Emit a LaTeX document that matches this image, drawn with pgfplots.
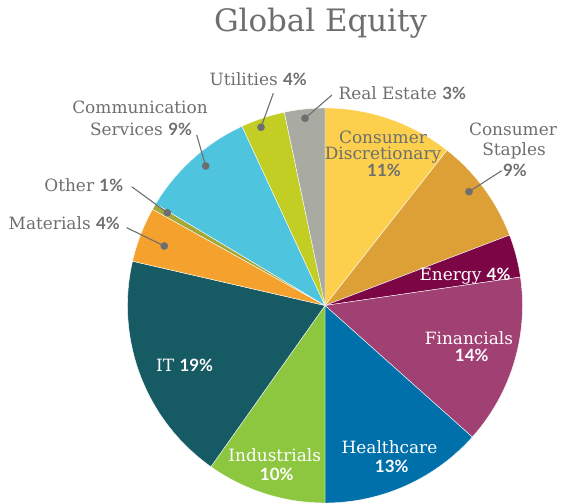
\documentclass[border=0pt]{standalone}
\usepackage{pgfplots}
\pgfplotsset{compat=1.18}
\usepackage{fontspec}
\setmainfont{DejaVu Serif}
\newfontfamily\pctf{Lato}
\definecolor{cCD}{HTML}{FCD04D}
\definecolor{cCS}{HTML}{DCA036}
\definecolor{cEN}{HTML}{7B0545}
\definecolor{cFI}{HTML}{A14072}
\definecolor{cHC}{HTML}{0070AA}
\definecolor{cIN}{HTML}{8DC63F}
\definecolor{cIT}{HTML}{165A63}
\definecolor{cMA}{HTML}{F5A12E}
\definecolor{cOT}{HTML}{A3A83A}
\definecolor{cCO}{HTML}{4EC4DE}
\definecolor{cUT}{HTML}{C2CE24}
\definecolor{cRE}{HTML}{A9ABA2}
\definecolor{txt}{HTML}{6D6E70}
\newcommand\pc[1]{{\pctf\bfseries\fontsize{17}{18}\selectfont #1\%}}
\def\cum{0}
\newcommand\slice[2]{%
  \pgfmathsetmacro\slA{\cum}%
  \pgfmathsetmacro\slB{\cum+#1}%
  \edef\tmp{\noexpand\addplot[fill=#2,draw=white,line width=0.4pt,domain=\slA:\slB,samples=60,variable=\noexpand\t] ({325+197.5*sin(3.6*\noexpand\t)},{198.5+197.5*cos(3.6*\noexpand\t)}) -- (axis cs:325,198.5) -- cycle;}%
  \tmp
  \global\let\cum\slB
}
\begin{document}
\begin{tikzpicture}
\begin{axis}[hide axis, scale only axis, width=563bp, height=504bp,
  xmin=0, xmax=563, ymin=0, ymax=504, clip=false]
% shares in percent, clockwise from 12 o'clock
\slice{10.6}{cCD}% Consumer Discretionary
\slice{8.6}{cCS}% Consumer Staples
\slice{3.5}{cEN}% Energy
\slice{13.9}{cFI}% Financials
\slice{13.4}{cHC}% Healthcare
\slice{9.8}{cIN}% Industrials
\slice{18.8}{cIT}% IT
\slice{4.5}{cMA}% Materials
\slice{0.5}{cOT}% Other
\slice{9.5}{cCO}% Communication Services
\slice{3.6}{cUT}% Utilities
\slice{3.3}{cRE}% Real Estate
% leader lines
\addplot[txt, line width=1.1pt, no marks] coordinates {(305,385.7) (332,409)};
\addplot[txt, line width=1.1pt, no marks] coordinates {(261,376.7) (273.3,410.7)};
\addplot[txt, line width=1.1pt, no marks] coordinates {(205.7,338) (196.7,369)};
\addplot[txt, line width=1.1pt, no marks] coordinates {(167.3,291.3) (131.7,317.3)};
\addplot[txt, line width=1.1pt, no marks] coordinates {(164.3,258) (126.7,276.3)};
\addplot[txt, line width=1.1pt, no marks] coordinates {(469,312.3) (501.7,333.3)};
\addplot[only marks, mark=*, mark size=3.6pt, txt] coordinates {(305,385.7) (261,376.7) (205.7,338) (167.3,291.3) (164.3,258) (469,312.3)};
% title
\node[anchor=base, text=txt, font=\fontsize{31}{34}\selectfont] at (axis cs:320.5,472.3) {Global Equity};
\begin{scope}[every node/.style={text=txt, font=\fontsize{17}{19}\selectfont}]
\node[anchor=base west] at (axis cs:335,404) {Real Estate \pc{3}};
\node[anchor=base west] at (axis cs:206,418) {Utilities \pc{4}};
\node[anchor=base] at (axis cs:140,390) {Communication};
\node[anchor=base] at (axis cs:141,368) {Services \pc{9}};
\node[anchor=base east] at (axis cs:126.7,312.3) {Other \pc{1}};
\node[anchor=base east] at (axis cs:123.3,274) {Materials \pc{4}};
\node[anchor=base] at (axis cs:383,360.7) {Consumer};
\node[anchor=base] at (axis cs:383,344) {Discretionary};
\node[anchor=base] at (axis cs:384,327.3) {\pc{11}};
\node[anchor=base] at (axis cs:513,368) {Consumer};
\node[anchor=base] at (axis cs:514,348.3) {Staples};
\node[anchor=base] at (axis cs:515,327.3) {\pc{9}};
\end{scope}
\begin{scope}[every node/.style={text=white, font=\fontsize{17}{19}\selectfont}]
\node[anchor=base] at (axis cs:465,223.3) {Energy \pc{4}};
\node[anchor=base] at (axis cs:469,159) {Financials};
\node[anchor=base] at (axis cs:471.7,142.3) {\pc{14}};
\node[anchor=base] at (axis cs:389.5,50) {Healthcare};
\node[anchor=base] at (axis cs:391.7,31.3) {\pc{13}};
\node[anchor=base] at (axis cs:274.7,42.3) {Industrials};
\node[anchor=base] at (axis cs:276.7,23.3) {\pc{10}};
\node[anchor=base west] at (axis cs:152.7,132.3) {IT \pc{19}};
\end{scope}
\end{axis}
\pgfresetboundingbox
\path (current axis.south west) rectangle (current axis.north east);
\end{tikzpicture}
\end{document}
